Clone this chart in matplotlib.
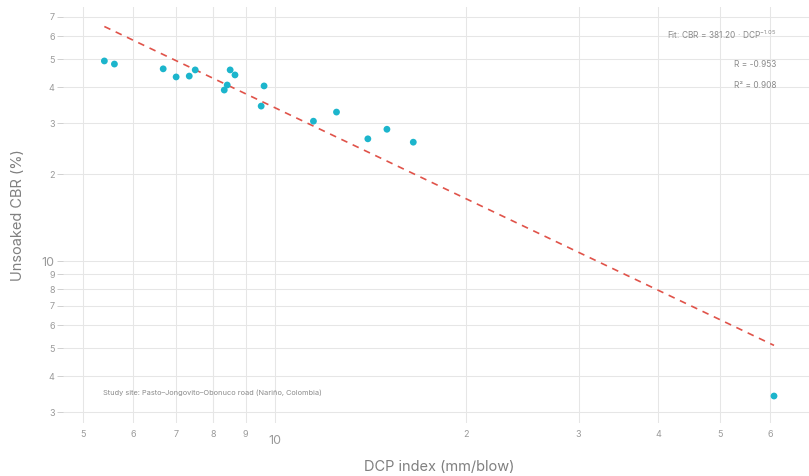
import matplotlib
matplotlib.use("Agg")
import matplotlib.pyplot as plt
import numpy as np
from matplotlib.ticker import FixedLocator, FixedFormatter

plt.rcParams['font.family'] = ['Inter', 'DejaVu Sans']
plt.rcParams['mathtext.default'] = 'regular'

# data
dcp = [5.40, 5.60, 6.68, 7.00, 7.34, 7.50, 8.33, 8.42, 8.51, 8.66, 9.52, 9.62,
       11.5, 12.5, 14.0, 15.0, 16.5, 60.8]
cbr = [49.3, 48.1, 46.3, 43.4, 43.7, 45.9, 39.1, 40.7, 45.9, 44.1, 34.4, 40.4,
       30.5, 32.8, 26.5, 28.6, 25.8, 3.41]
fit_a = 381.20
fit_b = -1.05
r_val = -0.953
r2_val = 0.908

x_minor = [5, 6, 7, 8, 9, 20, 30, 40, 50, 60]
x_minor_lab = ['5', '6', '7', '8', '9', '2', '3', '4', '5', '6']
y_minor = [3, 4, 5, 6, 7, 8, 9, 20, 30, 40, 50, 60, 70]
y_minor_lab = ['3', '4', '5', '6', '7', '8', '9', '2', '3', '4', '5', '6', '7']

fig = plt.figure(figsize=(8.09, 4.76), dpi=100)
ax = fig.add_axes([63/809, 1-423/476, 1-63/809, (423-7)/476])

ax.set_xscale('log')
ax.set_yscale('log')
ax.set_xlim(4.65, 69)
ax.set_ylim(2.75, 75.8)

grid_c = '#e6e6e6'
ax.xaxis.set_major_locator(FixedLocator([10]))
ax.xaxis.set_major_formatter(FixedFormatter(['10']))
ax.xaxis.set_minor_locator(FixedLocator(x_minor))
ax.xaxis.set_minor_formatter(FixedFormatter(x_minor_lab))
ax.yaxis.set_major_locator(FixedLocator([10]))
ax.yaxis.set_major_formatter(FixedFormatter(['10']))
ax.yaxis.set_minor_locator(FixedLocator(y_minor))
ax.yaxis.set_minor_formatter(FixedFormatter(y_minor_lab))

tick_c = '#9a9a9a'
ax.tick_params(axis='x', which='minor', labelsize=6.5, labelcolor=tick_c,
               length=0, pad=5)
ax.tick_params(axis='x', which='major', labelsize=9, labelcolor=tick_c,
               length=0, pad=9)
ax.tick_params(axis='y', which='minor', labelsize=6.5, labelcolor=tick_c,
               length=4, width=0.7, pad=2, color='#d0d0d0')
ax.tick_params(axis='y', which='major', labelsize=9, labelcolor=tick_c,
               length=4, width=0.7, pad=2, color='#d0d0d0')

ax.grid(True, which='both', color=grid_c, linewidth=0.75)
ax.set_axisbelow(True)
ax.axvline(8, color='#d2d2d2', linewidth=0.75, zorder=0.5)
for s in ax.spines.values():
    s.set_visible(False)

# fitted power law over data range
xf = np.logspace(np.log10(min(dcp)), np.log10(max(dcp)), 100)
ax.plot(xf, fit_a * xf ** fit_b, color='#e0534a', linestyle=(0, (4, 3.5)),
        linewidth=1.2, zorder=2)

ax.scatter(dcp, cbr, s=24, color='#1cb5cc', edgecolors='none', zorder=3)

ax.set_xlabel('DCP index (mm/blow)', fontsize=10.5, color='#808080')
ax.xaxis.set_label_coords(0.505, -0.089)
ax.set_ylabel('Unsoaked CBR (%)', fontsize=10.5, color='#808080')
ax.yaxis.set_label_coords(-0.051, 0.5)

txt_c = '#8a8a8a'
ax.text(0.956, 0.933, 'Fit: CBR = 381.20 · DCP$^{-1.05}$', transform=ax.transAxes,
        ha='right', va='center', fontsize=6, color=txt_c)
ax.text(0.956, 0.861, 'R = %.3f' % r_val, transform=ax.transAxes,
        ha='right', va='center', fontsize=6, color=txt_c)
ax.text(0.956, 0.811, 'R² = %.3f' % r2_val, transform=ax.transAxes,
        ha='right', va='center', fontsize=6, color=txt_c)
ax.text(0.0536, 0.072, 'Study site: Pasto–Jongovito–Obonuco road (Nariño, Colombia)',
        transform=ax.transAxes, ha='left', va='center', fontsize=5.3, color=txt_c)

fig.savefig('out.png', dpi=100)
